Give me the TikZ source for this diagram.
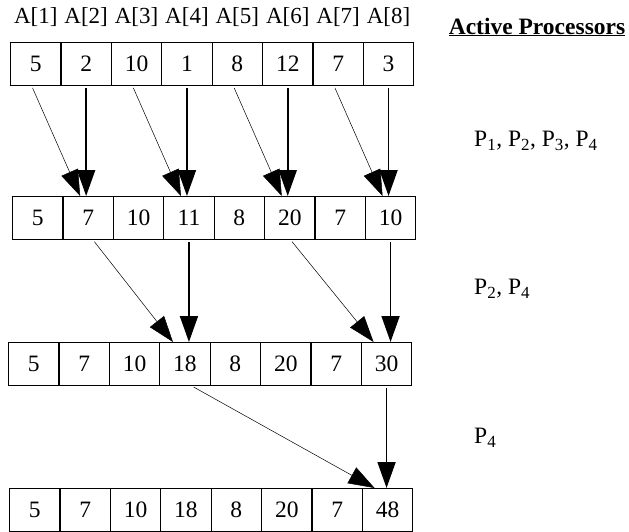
\documentclass[tikz,border=0pt]{standalone}
\usepackage{fontspec}
\setmainfont{Liberation Serif}
\usetikzlibrary{arrows.meta,positioning}

\tikzset{
  cell/.style={draw, line width=1.1pt, minimum width=50.4pt, minimum height=43pt,
               inner sep=0pt, anchor=north west, font=\fontsize{23.5}{27}\selectfont},
  idx/.style={inner sep=0pt, font=\fontsize{23}{27}\selectfont},
  proc/.style={anchor=west, inner sep=0pt, font=\fontsize{23.5}{27}\selectfont},
  addarrow/.style={-{Triangle[length=26pt,width=18pt]}, line width=1.8pt, shorten <=2pt},
  movearrow/.style={-{Triangle[length=26pt,width=18pt]}, line width=0.5pt, shorten <=2pt},
}
\newcommand{\pn}[1]{P\textsubscript{\fontsize{17}{20}\selectfont #1}}

\begin{document}
\begin{tikzpicture}[x=1pt, y=-1pt]
\useasboundingbox (0,0) rectangle (629,532);
% array after each step
\foreach \v [count=\i] in {5,2,10,1,8,12,7,3}
  \node[cell] (r1-\i) at ({10+(\i-1)*50.4},42) {\v};
\foreach \v [count=\i] in {5,7,10,11,8,20,7,10}
  \node[cell] (r2-\i) at ({12+(\i-1)*50.4},196) {\v};
\foreach \v [count=\i] in {5,7,10,18,8,20,7,30}
  \node[cell] (r3-\i) at ({8+(\i-1)*50.4},342) {\v};
\foreach \v [count=\i] in {5,7,10,18,8,20,7,48}
  \node[cell] (r4-\i) at ({9+(\i-1)*50.4},488) {\v};
\foreach \i in {1,...,8}
  \node[idx, above=15pt of r1-\i] (a\i) {A[\i]};

% processors
\node[inner sep=0pt, font=\fontsize{23.5}{27}\selectfont\bfseries] (title) at (537,27) {\underline{Active Processors}};
\node[proc] (p1) at (474,141) {\pn{1}, \pn{2}, \pn{3}, \pn{4}};
\node[proc] (p2) at (474,289) {\pn{2}, \pn{4}};
\node[proc] (p3) at (474,438) {\pn{4}};

% step 1
\foreach \a/\b in {1/2,3/4,5/6,7/8} {
  \draw[movearrow] ([xshift=-4pt]r1-\a.south) -- ([xshift=-8pt]r2-\b.north);
  \draw[addarrow] (r1-\b.south) -- (r1-\b.south |- r2-\b.north);
}
% step 2
\draw[movearrow] ([xshift=5pt]r2-2.south) -- ([xshift=-12pt]r3-4.north);
\draw[addarrow] (r2-4.south) -- (r2-4.south |- r3-4.north);
\draw[movearrow] ([xshift=1pt]r2-6.south) -- ([xshift=-13pt]r3-8.north);
\draw[addarrow] (r2-8.south) -- (r2-8.south |- r3-8.north);
% step 3
\draw[movearrow] ([xshift=7pt]r3-4.south) -- ([xshift=-13pt]r4-8.north);
\draw[addarrow] (r3-8.south) -- (r3-8.south |- r4-8.north);
\end{tikzpicture}
\end{document}
